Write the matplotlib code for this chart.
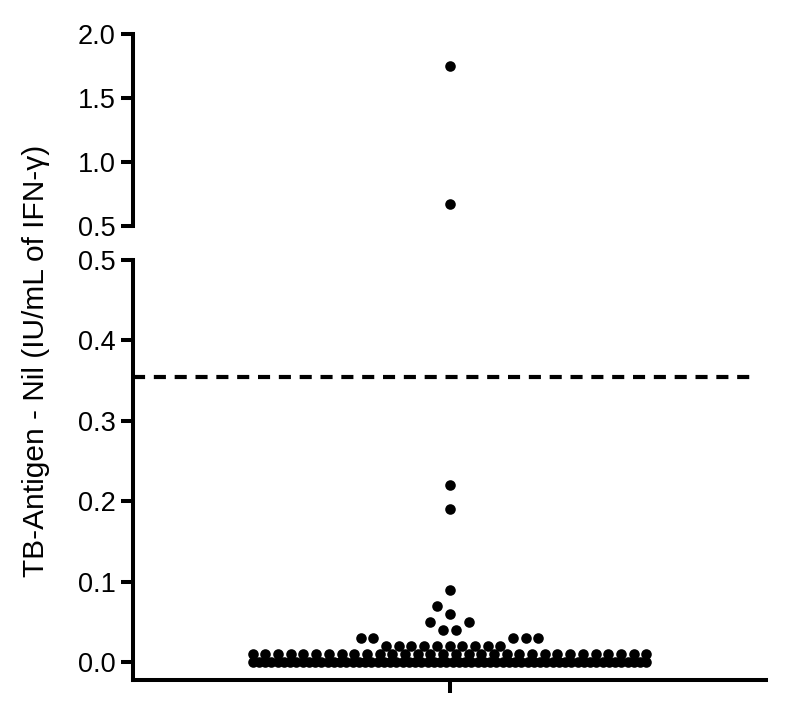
"""Scatter dot plot of TB-Antigen minus Nil with a broken y axis; saves out.png."""

import matplotlib

matplotlib.use("Agg")

import matplotlib.pyplot as plt
import numpy as np


# distinct measured values and how many subjects sit on each
values = [0.00, 0.01, 0.02, 0.03, 0.04, 0.05, 0.06, 0.07, 0.09, 0.19, 0.22, 0.67, 1.75]
counts = [64, 32, 10, 5, 2, 2, 1, 1, 1, 1, 1, 1, 1]
cutoff = 0.355

low_ticks = [0.0, 0.1, 0.2, 0.3, 0.4, 0.5]
high_ticks = [0.5, 1.0, 1.5, 2.0]
ylabel = "TB-Antigen - Nil (IU/mL of IFN-\u03b3)"

W, H = 785, 702
AX_LEFT, AX_RIGHT = 133, 766
SLOT_PX = 12.7


def swarm(values, counts, max_slots=31, dense=20):
    """Prism-like dot layout, offsets in slot units."""
    out = []
    prev = None
    cands = sorted(np.arange(-40, 41) * 0.5, key=lambda c: (abs(c), c))
    for v, n in zip(values, counts):
        if n >= dense:
            half = min(n - 1, max_slots) / 2
            pos = list(np.linspace(-half, half, n))
            prev = None
        else:
            below = prev[1] if prev is not None and v - prev[0] < 0.015 else []
            pos = []
            for c in cands:
                if len(pos) == n:
                    break
                if all(abs(c - p) >= 1 for p in pos + below):
                    pos.append(c)
            if below:
                shift = -round(np.mean(pos) * 2) / 2
                moved = [p + shift for p in pos]
                if all(abs(m - b) >= 1 for m in moved for b in below):
                    pos = moved
            prev = (v, pos)
        out.append((v, pos))
    return out


def main():
    plt.rcParams["font.family"] = ["Liberation Sans", "DejaVu Sans"]
    fig = plt.figure(figsize=(W / 100, H / 100), dpi=100)

    ax_w = (AX_RIGHT - AX_LEFT) / W
    ax_lo = fig.add_axes([AX_LEFT / W, (H - 680) / H, ax_w, (680 - 260) / H])
    ax_hi = fig.add_axes([AX_LEFT / W, (H - 226) / H, ax_w, 192 / H])

    slot = SLOT_PX / (AX_RIGHT - AX_LEFT) * 2.0
    layout = swarm(values, counts)
    xs_lo, ys_lo, xs_hi, ys_hi = [], [], [], []
    for v, pos in layout:
        for p in pos:
            if v <= 0.5:
                xs_lo.append(p * slot)
                ys_lo.append(v)
            else:
                xs_hi.append(p * slot)
                ys_hi.append(v)

    ax_lo.scatter(xs_lo, ys_lo, s=58, color="black", linewidths=0, zorder=3, clip_on=False)
    ax_hi.scatter(xs_hi, ys_hi, s=58, color="black", linewidths=0, zorder=3, clip_on=False)
    ax_lo.plot([-1.0, 0.975], [cutoff, cutoff], color="black", lw=3.0,
               dashes=(2.9, 2.1), solid_capstyle="butt", dash_capstyle="butt")

    for ax in (ax_lo, ax_hi):
        ax.set_xlim(-1, 1)
        ax.spines["top"].set_visible(False)
        ax.spines["right"].set_visible(False)
        for s in ax.spines.values():
            s.set_linewidth(2.9)
        ax.tick_params(axis="y", direction="out", length=8.5, width=2.9,
                       labelsize=19.5, pad=4)
        ax.set_facecolor("none")

    ax_lo.set_ylim(-0.0224, 0.5)
    ax_lo.set_yticks(low_ticks)
    ax_lo.set_yticklabels([f"{t:.1f}" for t in low_ticks])
    ax_lo.set_xticks([0])
    ax_lo.set_xticklabels([""])
    ax_lo.tick_params(axis="x", direction="out", length=9.5, width=2.9)

    ax_hi.set_ylim(0.5, 2.0)
    ax_hi.set_yticks(high_ticks)
    ax_hi.set_yticklabels([f"{t:.1f}" for t in high_ticks])
    ax_hi.spines["bottom"].set_visible(False)
    ax_hi.set_xticks([])

    fig.text(36 / W, 1 - 361 / H, ylabel, rotation=90, ha="center", va="center",
             fontsize=21.5)

    fig.savefig("out.png", dpi=100)


if __name__ == "__main__":
    main()
